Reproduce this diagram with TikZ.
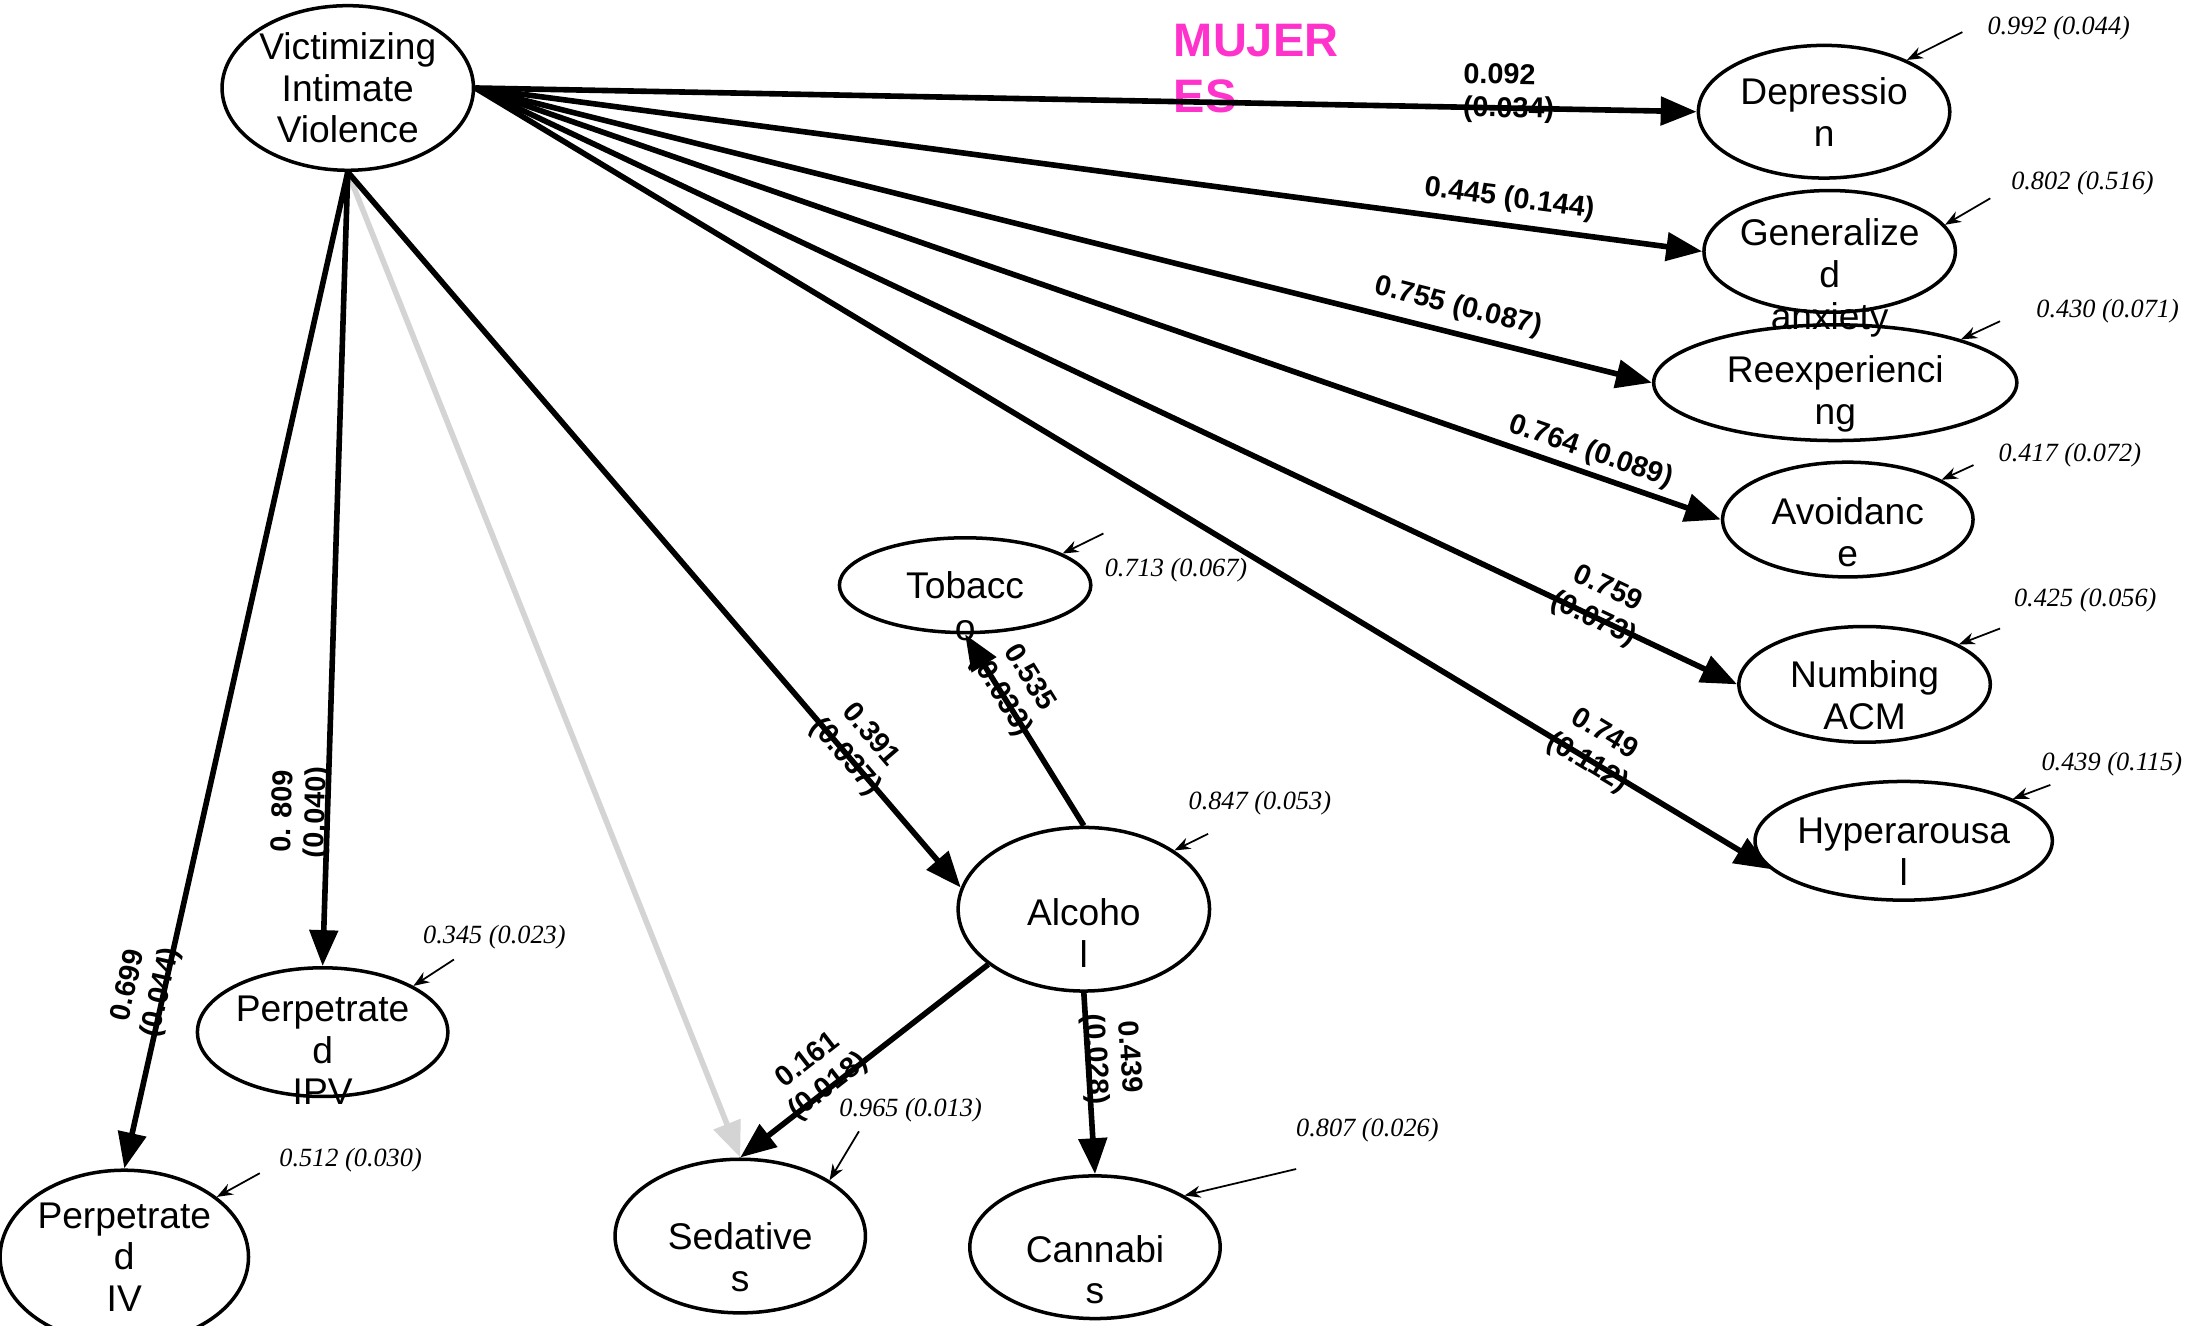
\documentclass[tikz,border=0pt]{standalone}
\usepackage{fontspec}
\setmainfont{Liberation Sans}
\newfontfamily\errfamily{Liberation Serif}
\usepackage{tikz}
\usetikzlibrary{arrows.meta}
\usetikzlibrary{shapes.geometric}
\definecolor{mujeres}{RGB}{255,51,204}
\newcommand{\varfont}{\fontsize{10.6}{11.9}\selectfont}
\newcommand{\coeffont}{\fontsize{8.2}{9.5}\selectfont\bfseries}
\newcommand{\errfont}{\errfamily\itshape\fontsize{7.5}{9}\selectfont}

\begin{document}
\begin{tikzpicture}[x=0.14mm, y=-0.14mm,
    latent/.style={ellipse, draw, line width=1pt, inner sep=0pt},
    var text/.style={font=\varfont, align=center, inner sep=0pt},
    important line/.style={line width=1.6pt, -{Triangle[length=3.6mm, width=2.8mm]}},
    faint line/.style={important line, draw=black!17},
    error line/.style={line width=0.5pt, -{Stealth[length=1.6mm, width=1.2mm]}},
    coef/.style={font=\coeffont, align=center, inner sep=0pt, sloped},
    error/.style={font=\errfont, inner sep=0pt},
    ]

\useasboundingbox (0,0) rectangle (1568,949);

%% error terms
\coordinate (dep-e) at (1405,23);  \coordinate (gen-e) at (1425,142); \coordinate (ree-e) at (1432,230);
\coordinate (avo-e) at (1413,333); \coordinate (num-e) at (1432,450); \coordinate (hyp-e) at (1468,562);
\coordinate (tob-e) at (790,382);  \coordinate (alc-e) at (865,597);  \coordinate (ipv-e) at (325,687);
\coordinate (iv-e) at (186,840);   \coordinate (sed-e) at (615,810);  \coordinate (can-e) at (928,837);

%% draw nodes
\node[latent, minimum width=25.2mm, minimum height=16.5mm] (viv) at (249,63) {};
\node[latent, minimum width=25.2mm, minimum height=13.3mm] (dep) at (1306,80) {};
\node[latent, minimum width=25.2mm, minimum height=12.2mm] (gen) at (1310,180) {};
\node[latent, minimum width=36.4mm, minimum height=11.6mm] (ree) at (1314,274) {};
\node[latent, minimum width=25.1mm, minimum height=11.5mm] (avo) at (1323,372) {};
\node[latent, minimum width=25.2mm, minimum height=11.6mm] (num) at (1335,490) {};
\node[latent, minimum width=29.8mm, minimum height=11.9mm] (hyp) at (1363,602) {};
\node[latent, minimum width=25.2mm, minimum height=9.5mm] (tob) at (691,419) {};
\node[latent, minimum width=25.2mm, minimum height=16.4mm] (alc) at (776,651) {};
\node[latent, minimum width=25.1mm, minimum height=12.9mm] (ipv) at (231,739) {};
\node[latent, minimum width=24.9mm, minimum height=17.4mm] (iv) at (89,900) {};
\node[latent, minimum width=25.1mm, minimum height=15.4mm] (sed) at (530,885) {};
\node[latent, minimum width=25.1mm, minimum height=14.3mm] (can) at (784,893) {};

%% label nodes
\node[var text] (viv-t) at (249,63) {Victimizing\\Intimate\\Violence};
\node[var text] (dep-t) at (1306,80) {Depressio\\n};
\node[var text] (gen-t) at (1310,199) {Generalize\\d\\anxiety};
\node[var text] (ree-t) at (1314,282) {Reexperienci\\ng};
\node[var text] (avo-t) at (1323,381) {Avoidanc\\e};
\node[var text] (num-t) at (1335,498) {Numbing\\ACM};
\node[var text] (hyp-t) at (1363,610) {Hyperarousa\\l};
\node[var text] (tob-t) at (691,434) {Tobacc\\o};
\node[var text] (alc-t) at (776,668) {Alcoho\\l};
\node[var text] (ipv-t) at (231,752) {Perpetrate\\d\\IPV};
\node[var text] (iv-t) at (89,900) {Perpetrate\\d\\IV};
\node[var text] (sed-t) at (530,900) {Sedative\\s};
\node[var text] (can-t) at (784,909) {Cannabi\\s};

\node[font=\fontsize{13.4}{15.9}\selectfont\bfseries, text=mujeres, align=left, anchor=west, inner sep=0pt] (title) at (840,49) {MUJER\\ES};

%% draw arrows
\draw[faint line] (viv.south) -- (sed.north);
\draw[important line] (viv.east) -- node[coef, align=left, pos=0.846, above=-1.8mm] {0.092\\(0.034)} (dep.west);
\draw[important line] (viv.east) -- node[coef, pos=0.84, above=1mm] {0.445 (0.144)} (gen.west);
\draw[important line] (viv.east) -- node[coef, pos=0.83, above=1mm] {0.755 (0.087)} (ree.west);
\draw[important line] (viv.east) -- node[coef, pos=0.89, above=0.5mm] {0.764 (0.089)} (avo.west);
\draw[important line] (viv.east) -- node[coef, pos=0.887, above=-1.9mm] {0.759\\(0.073)} (num.west);
\draw[important line] (viv.east) -- node[coef, pos=0.86, above=-2mm] {0.749\\(0.112)} (hyp.192);
\draw[important line] (viv.south) -- node[coef, pos=0.815, above=-1.9mm] {0.391\\(0.037)} (alc.170);
\draw[important line] (viv.south) -- node[coef, pos=0.807, above=-0.6mm] {0. 809\\(0.040)} (ipv.north);
\draw[important line] (viv.south) -- node[coef, pos=0.824, above=-1.4mm] {0.699\\(0.044)} (iv.north);
\draw[important line] (alc.north) -- node[coef, pos=0.686, above=-1.8mm] {0.535\\(0.033)} (tob.south);
\draw[important line] (alc.210) -- node[coef, pos=0.64, above=-1.5mm] {0.161\\(0.018)} (sed.north);
\draw[important line] (alc.south) -- node[coef, pos=0.37, above=-0.9mm] {0.439\\(0.028)} (can.north);

%% error variances
\draw[error line] (dep-e) -- (dep.32);
\draw[error line] (gen-e) -- (gen.13);
\draw[error line] (ree-e) -- (ree.19);
\draw[error line] (avo-e) -- (avo.23);
\draw[error line] (num-e) -- (num.23);
\draw[error line] (hyp-e) -- (hyp.21);
\draw[error line] (tob-e) -- (tob.18);
\draw[error line] (alc-e) -- (alc.33);
\draw[error line] (ipv-e) -- (ipv.27);
\draw[error line] (iv-e) -- (iv.33);
\draw[error line] (sed-e) -- (sed.32);
\draw[error line] (can-e) -- (can.30);

\node[error] (dep-v) at (1474,20) {0.992 (0.044)};
\node[error] (gen-v) at (1491,131) {0.802 (0.516)};
\node[error] (ree-v) at (1509,223) {0.430 (0.071)};
\node[error] (avo-v) at (1482,326) {0.417 (0.072)};
\node[error] (num-v) at (1493,430) {0.425 (0.056)};
\node[error] (hyp-v) at (1512,547) {0.439 (0.115)};
\node[error] (tob-v) at (842,408) {0.713 (0.067)};
\node[error] (alc-v) at (902,575) {0.847 (0.053)};
\node[error] (ipv-v) at (354,671) {0.345 (0.023)};
\node[error] (iv-v) at (251,831) {0.512 (0.030)};
\node[error] (sed-v) at (652,795) {0.965 (0.013)};
\node[error] (can-v) at (979,809) {0.807 (0.026)};

\end{tikzpicture}
\end{document}
